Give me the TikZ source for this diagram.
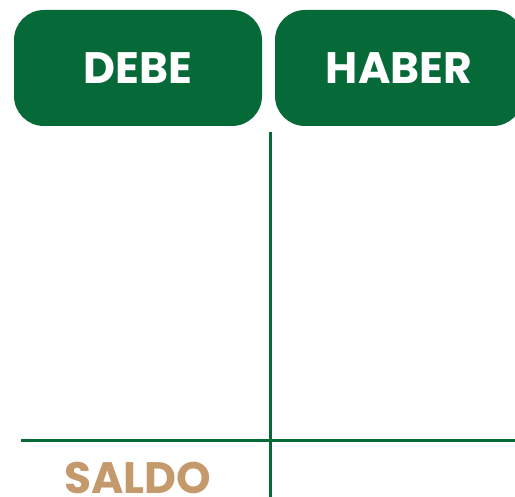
\documentclass[tikz,border=0pt]{standalone}
\usepackage{fontspec}
\setmainfont{Poppins}
\definecolor{verde}{HTML}{066A38}
\definecolor{arena}{HTML}{C49A6C}
\tikzset{
  titulo/.style={fill=verde, rounded corners=30pt, text=white, font=\fontsize{44}{44}\selectfont\bfseries, minimum width=248pt, minimum height=116pt, inner sep=0pt},
  raya/.style={draw=verde, line width=3pt}
}
\begin{document}
\begin{tikzpicture}[x=1pt,y=-1pt]
\useasboundingbox (0,0) rectangle (515,497);
\clip (0,0) rectangle (515,497);
\node[titulo] (debe) at (138,68) {DEBE};
\node[titulo] (haber) at (399,68) {HABER};
\coordinate (arriba) at (270,132);
\coordinate (abajo) at (270,500);
\coordinate (izq) at (21,441);
\coordinate (der) at (518,441);
\draw[raya] (arriba) -- (abajo);
\draw[raya] (izq) -- (der);
\node[text=arena, font=\fontsize{44}{44}\selectfont\bfseries, anchor=base] (saldo) at (138,494) {SALDO};
\end{tikzpicture}
\end{document}
